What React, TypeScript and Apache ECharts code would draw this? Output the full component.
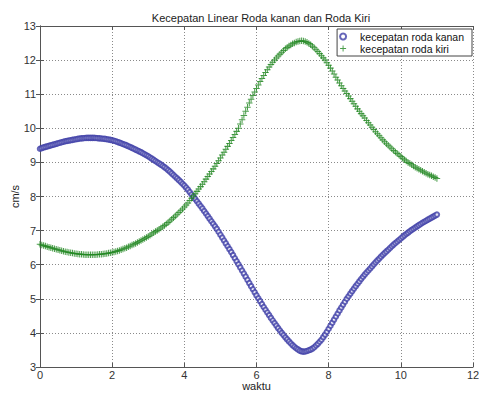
import React, { useEffect, useRef } from "react";
import * as echarts from "echarts";

const titleText = "Kecepatan Linear Roda kanan dan Roda Kiri";
const xName = "waktu";
const yName = "cm/s";
const seriesNames = ["kecepatan roda kanan", "kecepatan roda kiri"];

const waktu = [
  0.00, 0.05, 0.10, 0.15, 0.20, 0.25, 0.30, 0.35, 0.40, 0.45,
  0.50, 0.55, 0.60, 0.65, 0.70, 0.75, 0.80, 0.85, 0.90, 0.95,
  1.00, 1.05, 1.10, 1.15, 1.20, 1.25, 1.30, 1.35, 1.40, 1.45,
  1.50, 1.55, 1.60, 1.65, 1.70, 1.75, 1.80, 1.85, 1.90, 1.95,
  2.00, 2.05, 2.10, 2.15, 2.20, 2.25, 2.30, 2.35, 2.40, 2.45,
  2.50, 2.55, 2.60, 2.65, 2.70, 2.75, 2.80, 2.85, 2.90, 2.95,
  3.00, 3.05, 3.10, 3.15, 3.20, 3.25, 3.30, 3.35, 3.40, 3.45,
  3.50, 3.55, 3.60, 3.65, 3.70, 3.75, 3.80, 3.85, 3.90, 3.95,
  4.00, 4.05, 4.10, 4.15, 4.20, 4.25, 4.30, 4.35, 4.40, 4.45,
  4.50, 4.55, 4.60, 4.65, 4.70, 4.75, 4.80, 4.85, 4.90, 4.95,
  5.00, 5.05, 5.10, 5.15, 5.20, 5.25, 5.30, 5.35, 5.40, 5.45,
  5.50, 5.55, 5.60, 5.65, 5.70, 5.75, 5.80, 5.85, 5.90, 5.95,
  6.00, 6.05, 6.10, 6.15, 6.20, 6.25, 6.30, 6.35, 6.40, 6.45,
  6.50, 6.55, 6.60, 6.65, 6.70, 6.75, 6.80, 6.85, 6.90, 6.95,
  7.00, 7.05, 7.10, 7.15, 7.20, 7.25, 7.30, 7.35, 7.40, 7.45,
  7.50, 7.55, 7.60, 7.65, 7.70, 7.75, 7.80, 7.85, 7.90, 7.95,
  8.00, 8.05, 8.10, 8.15, 8.20, 8.25, 8.30, 8.35, 8.40, 8.45,
  8.50, 8.55, 8.60, 8.65, 8.70, 8.75, 8.80, 8.85, 8.90, 8.95,
  9.00, 9.05, 9.10, 9.15, 9.20, 9.25, 9.30, 9.35, 9.40, 9.45,
  9.50, 9.55, 9.60, 9.65, 9.70, 9.75, 9.80, 9.85, 9.90, 9.95,
  10.00, 10.05, 10.10, 10.15, 10.20, 10.25, 10.30, 10.35, 10.40, 10.45,
  10.50, 10.55, 10.60, 10.65, 10.70, 10.75, 10.80, 10.85, 10.90, 10.95,
  11.00,
];

const rodaKanan = [
  9.40, 9.42, 9.44, 9.455, 9.47, 9.485, 9.50, 9.515, 9.53, 9.545,
  9.56, 9.575, 9.59, 9.605, 9.62, 9.63, 9.64, 9.65, 9.66, 9.67,
  9.68, 9.69, 9.70, 9.705, 9.71, 9.715, 9.72, 9.72, 9.72, 9.72,
  9.72, 9.715, 9.71, 9.705, 9.70, 9.695, 9.69, 9.68, 9.67, 9.66,
  9.65, 9.635, 9.62, 9.60, 9.58, 9.56, 9.54, 9.52, 9.50, 9.475,
  9.45, 9.425, 9.40, 9.375, 9.35, 9.325, 9.30, 9.27, 9.24, 9.21,
  9.18, 9.145, 9.11, 9.075, 9.04, 9.005, 8.97, 8.935, 8.90, 8.86,
  8.82, 8.775, 8.73, 8.68, 8.63, 8.58, 8.53, 8.48, 8.43, 8.375,
  8.32, 8.26, 8.20, 8.13, 8.06, 7.995, 7.93, 7.86, 7.79, 7.72,
  7.65, 7.575, 7.50, 7.425, 7.35, 7.275, 7.20, 7.125, 7.05, 6.965,
  6.88, 6.795, 6.71, 6.625, 6.54, 6.455, 6.37, 6.28, 6.19, 6.10,
  6.01, 5.92, 5.83, 5.74, 5.65, 5.555, 5.46, 5.37, 5.28, 5.19,
  5.10, 5.015, 4.93, 4.845, 4.76, 4.68, 4.60, 4.52, 4.44, 4.365,
  4.29, 4.215, 4.14, 4.07, 4.00, 3.935, 3.87, 3.81, 3.75, 3.695,
  3.64, 3.595, 3.55, 3.515, 3.48, 3.46, 3.45, 3.455, 3.47, 3.49,
  3.51, 3.54, 3.58, 3.63, 3.68, 3.74, 3.80, 3.875, 3.95, 4.035,
  4.12, 4.21, 4.30, 4.39, 4.48, 4.57, 4.66, 4.745, 4.83, 4.915,
  5.00, 5.075, 5.15, 5.225, 5.30, 5.37, 5.44, 5.51, 5.58, 5.645,
  5.71, 5.77, 5.83, 5.89, 5.95, 6.01, 6.07, 6.125, 6.18, 6.235,
  6.29, 6.34, 6.39, 6.44, 6.49, 6.54, 6.59, 6.635, 6.68, 6.725,
  6.77, 6.815, 6.86, 6.90, 6.94, 6.98, 7.02, 7.055, 7.09, 7.125,
  7.16, 7.195, 7.23, 7.26, 7.29, 7.32, 7.35, 7.38, 7.41, 7.44,
  7.47,
];

const rodaKiri = [
  6.60, 6.58, 6.56, 6.545, 6.53, 6.515, 6.50, 6.485, 6.47, 6.455,
  6.44, 6.425, 6.41, 6.395, 6.38, 6.37, 6.36, 6.35, 6.34, 6.33,
  6.32, 6.315, 6.31, 6.305, 6.30, 6.295, 6.29, 6.29, 6.29, 6.29,
  6.29, 6.295, 6.30, 6.305, 6.31, 6.315, 6.32, 6.33, 6.34, 6.35,
  6.36, 6.375, 6.39, 6.405, 6.42, 6.44, 6.46, 6.48, 6.50, 6.525,
  6.55, 6.575, 6.60, 6.625, 6.65, 6.68, 6.71, 6.74, 6.77, 6.80,
  6.83, 6.865, 6.90, 6.935, 6.97, 7.005, 7.04, 7.075, 7.11, 7.15,
  7.19, 7.235, 7.28, 7.33, 7.38, 7.43, 7.48, 7.53, 7.58, 7.635,
  7.69, 7.75, 7.81, 7.88, 7.95, 8.015, 8.08, 8.15, 8.22, 8.29,
  8.36, 8.435, 8.51, 8.585, 8.66, 8.735, 8.81, 8.89, 8.97, 9.05,
  9.13, 9.215, 9.30, 9.385, 9.47, 9.555, 9.64, 9.73, 9.82, 9.91,
  10.00, 10.125, 10.25, 10.375, 10.50, 10.62, 10.74, 10.85, 10.96, 11.065,
  11.17, 11.27, 11.37, 11.46, 11.55, 11.635, 11.72, 11.795, 11.87, 11.935,
  12.00, 12.06, 12.12, 12.175, 12.23, 12.28, 12.33, 12.37, 12.41, 12.445,
  12.48, 12.505, 12.53, 12.545, 12.56, 12.565, 12.56, 12.545, 12.52, 12.49,
  12.45, 12.405, 12.36, 12.305, 12.25, 12.19, 12.13, 12.065, 12.00, 11.925,
  11.85, 11.765, 11.68, 11.59, 11.50, 11.415, 11.33, 11.25, 11.17, 11.095,
  11.02, 10.945, 10.87, 10.795, 10.72, 10.645, 10.57, 10.50, 10.43, 10.365,
  10.30, 10.23, 10.16, 10.095, 10.03, 9.965, 9.90, 9.84, 9.78, 9.72,
  9.66, 9.605, 9.55, 9.50, 9.45, 9.40, 9.35, 9.305, 9.26, 9.215,
  9.17, 9.125, 9.08, 9.04, 9.00, 8.965, 8.93, 8.895, 8.86, 8.83,
  8.80, 8.77, 8.74, 8.71, 8.68, 8.655, 8.63, 8.605, 8.58, 8.555,
  8.53,
];

const plusPath = "path://M4.2,0L5.8,0L5.8,4.2L10,4.2L10,5.8L5.8,5.8L5.8,10L4.2,10L4.2,5.8L0,5.8L0,4.2L4.2,4.2Z";

export default function App() {
  const ref = useRef<HTMLDivElement>(null);
  useEffect(() => {
    if (!ref.current) return;
    const chart = echarts.init(ref.current, null, { renderer: "svg" });
    const font = "Liberation Sans, Arial, sans-serif";
    const gridLine = { show: true, lineStyle: { color: "#8a8a8a", type: [1, 2] as any, width: 1 } };
    const axisCommon = {
      axisLine: { show: true, lineStyle: { color: "#555", width: 1 } },
      axisTick: { show: true, inside: true, length: 4, lineStyle: { color: "#555" } },
    };
    chart.setOption({
      animation: false,
      backgroundColor: "#ffffff",
      textStyle: { fontFamily: font },
      title: {
        text: titleText,
        left: 256,
        textAlign: "center",
        top: 7,
        textStyle: { fontSize: 11, fontWeight: "normal", color: "#222", fontFamily: font },
      },
      legend: {
        orient: "vertical",
        right: 7,
        top: 29,
        backgroundColor: "#ffffff",
        borderColor: "#444",
        borderWidth: 1,
        borderRadius: 0,
        padding: [2, 8, 2, 2],
        itemWidth: 24,
        itemHeight: 6,
        itemGap: 1,
        textStyle: { fontSize: 10.5, color: "#111", fontFamily: font },
        data: [
          { name: seriesNames[0], icon: "emptyCircle" },
          { name: seriesNames[1], icon: plusPath },
        ],
      },
      grid: { left: 40, right: 6, top: 26, bottom: 26, show: false, containLabel: false, outerBoundsMode: "none" } as any,
      xAxis: [
        {
          type: "value",
          min: 0,
          max: 12,
          interval: 2,
          name: xName,
          nameLocation: "middle",
          nameGap: 13,
          nameMoveOverlap: false,
          nameTextStyle: { fontSize: 11, lineHeight: 11, color: "#222", fontFamily: font },
          axisLabel: { fontSize: 11, lineHeight: 11, color: "#333", margin: 2, fontFamily: font },
          splitLine: gridLine,
          ...axisCommon,
        } as any,
        {
          type: "value",
          position: "top",
          min: 0,
          max: 12,
          interval: 2,
          axisLabel: { show: false },
          splitLine: { show: false },
          ...axisCommon,
        },
      ],
      yAxis: [
        {
          type: "value",
          min: 3,
          max: 13,
          interval: 1,
          name: yName,
          nameLocation: "middle",
          nameGap: 20,
          nameMoveOverlap: false,
          nameTextStyle: { fontSize: 11, color: "#222", fontFamily: font },
          axisLabel: { fontSize: 11, color: "#333", margin: 4, fontFamily: font },
          splitLine: gridLine,
          ...axisCommon,
        } as any,
        {
          type: "value",
          position: "right",
          min: 3,
          max: 13,
          interval: 1,
          axisLabel: { show: false },
          splitLine: { show: false },
          ...axisCommon,
        },
      ],
      series: [
        {
          name: seriesNames[0],
          type: "scatter",
          symbol: "emptyCircle",
          symbolSize: 4.5,
          itemStyle: { color: "#4040a8", borderColor: "#4040a8", borderWidth: 0.9 },
          data: waktu.map((t, i) => [t, rodaKanan[i]]),
        },
        {
          name: seriesNames[1],
          type: "scatter",
          symbol: plusPath,
          symbolSize: 6.5,
          itemStyle: { color: "#1f861f" },
          data: waktu.map((t, i) => [t, rodaKiri[i]]),
        },
      ],
    });
    return () => chart.dispose();
  }, []);
  return <div ref={ref} style={{ width: 479, height: 393, position: "fixed", left: 0, top: 0 }} />;
}
